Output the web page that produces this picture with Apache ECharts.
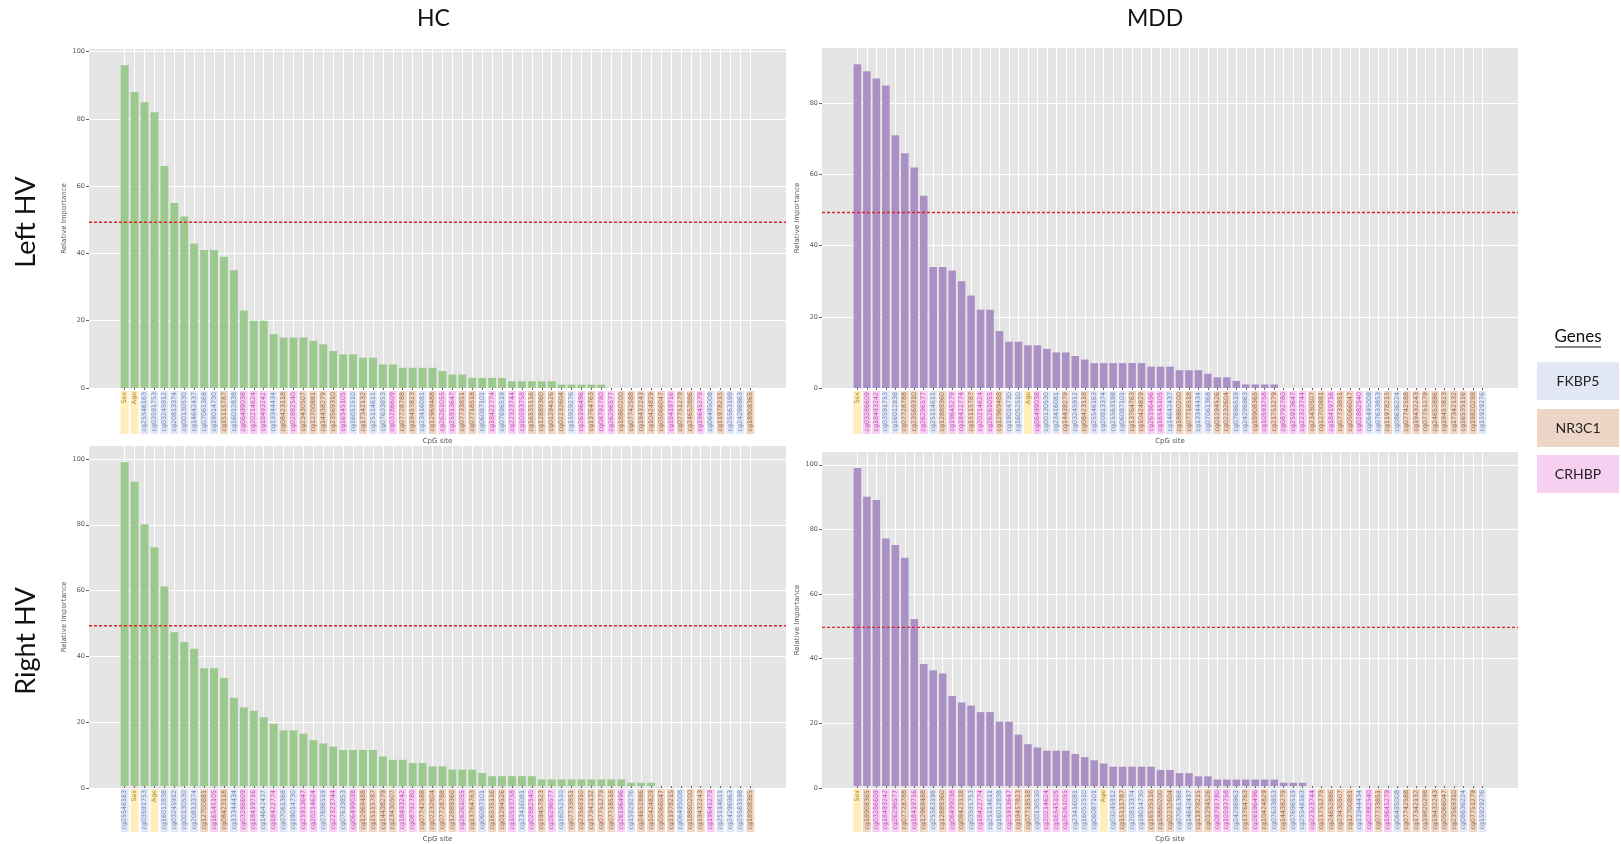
<!DOCTYPE html>
<html>
<head>
<meta charset="utf-8">
<script src="https://cdn.jsdelivr.net/npm/echarts@6/dist/echarts.min.js"></script>
<style>
html, body { margin: 0; padding: 0; background: #fff; }
#chart { width: 1621px; height: 844px; }
</style>
</head>
<body>
<div id="chart"></div>
<script>
// gene membership of each CpG site
const covariates = ['Sex', 'Age']
const fkbp5Sites = ['cg25546163', 'cg03591753', 'cg03245912', 'cg20813374', 'cg00130530', 'cg14642437', 'cg07061368', 'cg19014730', 'cg16012838', 'cg13344434', 'cg16052510', 'cg25114611', 'cg07633853', 'cg23416081', 'cg06087101', 'cg07696519', 'cg15929276', 'cg06495008', 'cg25563198', 'cg24296963', 'cg08636224']
const nr3c1Sites = ['cg15115787', 'cg08423118', 'cg23430507', 'cg12700881', 'cg14438279', 'cg23569310', 'cg17342132', 'cg07728788', 'cg19457823', 'cg12969488', 'cg07733851', 'cg07718518', 'cg16535116', 'cg12889360', 'cg01294526', 'cg02232604', 'cg13764763', 'cg18860200', 'cg07742588', 'cg19432243', 'cg10424829', 'cg05066047', 'cg07751279', 'cg24652886', 'cg11978215', 'cg18908365', 'cg21751279', 'cg19820298']
const crhbpSites = ['cg06499038', 'cg20214624', 'cg18493242', 'cg02882540', 'cg16545105', 'cg03286609', 'cg26261055', 'cg25913647', 'cg18422774', 'cg22323744', 'cg10593758', 'cg26196496', 'cg08792780', 'cg26296577', 'cg18419716', 'cg19645279']

// HC, left HV
const hcLeftSites = ['Sex', 'Age', 'cg25546163', 'cg03591753', 'cg03245912', 'cg20813374', 'cg00130530', 'cg14642437', 'cg07061368', 'cg19014730', 'cg15115787', 'cg16012838', 'cg06499038', 'cg20214624', 'cg18493242', 'cg13344434', 'cg08423118', 'cg02882540', 'cg23430507', 'cg12700881', 'cg14438279', 'cg23569310', 'cg16545105', 'cg16052510', 'cg17342132', 'cg25114611', 'cg07633853', 'cg03286609', 'cg07728788', 'cg19457823', 'cg23416081', 'cg12969488', 'cg26261055', 'cg25913647', 'cg07733851', 'cg07718518', 'cg06087101', 'cg18422774', 'cg07696519', 'cg22323744', 'cg10593758', 'cg16535116', 'cg12889360', 'cg01294526', 'cg02232604', 'cg15929276', 'cg26196496', 'cg13764763', 'cg08792780', 'cg26296577', 'cg18860200', 'cg07742588', 'cg19432243', 'cg10424829', 'cg05066047', 'cg18419716', 'cg07751279', 'cg24652886', 'cg19645279', 'cg06495008', 'cg11978215', 'cg25563198', 'cg24296963', 'cg18908365']
const hcLeftValues = [96, 88, 85, 82, 66, 55, 51, 43, 41, 41, 39, 35, 23, 20, 20, 16, 15, 15, 15, 14, 13, 11, 10, 10, 9, 9, 7, 7, 6, 6, 6, 6, 5, 4, 4, 3, 3, 3, 3, 2, 2, 2, 2, 2, 1, 1, 1, 1, 1, 0, 0, 0, 0, 0, 0, 0, 0, 0, 0, 0, 0, 0, 0, 0]

// MDD, left HV
const mddLeftSites = ['Sex', 'cg03286609', 'cg18493242', 'cg03591753', 'cg16012838', 'cg07728788', 'cg23569310', 'cg26296577', 'cg25114611', 'cg12889360', 'cg19645279', 'cg18422774', 'cg15115787', 'cg20214624', 'cg26261055', 'cg12969488', 'cg19014730', 'cg16052510', 'Age', 'cg06499038', 'cg00130530', 'cg23416081', 'cg14438279', 'cg03245912', 'cg08423118', 'cg25546163', 'cg20813374', 'cg25563198', 'cg06087101', 'cg13764763', 'cg10424829', 'cg26196496', 'cg16545105', 'cg14642437', 'cg18860200', 'cg07718518', 'cg13344434', 'cg07061368', 'cg01294526', 'cg02232604', 'cg07696519', 'cg24296963', 'cg18908365', 'cg10593758', 'cg21751279', 'cg08792780', 'cg25913647', 'cg22323744', 'cg23430507', 'cg12700881', 'cg18419716', 'cg07733851', 'cg05066047', 'cg02882540', 'cg06495008', 'cg07633853', 'cg11978215', 'cg08636224', 'cg07742588', 'cg19432243', 'cg07751279', 'cg24652886', 'cg19457823', 'cg17342132', 'cg16535116', 'cg19820298', 'cg15929276']
const mddLeftValues = [91, 89, 87, 85, 71, 66, 62, 54, 34, 34, 33, 30, 26, 22, 22, 16, 13, 13, 12, 12, 11, 10, 10, 9, 8, 7, 7, 7, 7, 7, 7, 6, 6, 6, 5, 5, 5, 4, 3, 3, 2, 1, 1, 1, 1, 0, 0, 0, 0, 0, 0, 0, 0, 0, 0, 0, 0, 0, 0, 0, 0, 0, 0, 0, 0, 0, 0]

// HC, right HV
const hcRightSites = ['cg25546163', 'Sex', 'cg03591753', 'Age', 'cg16012838', 'cg03245912', 'cg00130530', 'cg20813374', 'cg12700881', 'cg16545105', 'cg08423118', 'cg13344434', 'cg03286609', 'cg18419716', 'cg14642437', 'cg18422774', 'cg07061368', 'cg19014730', 'cg25913647', 'cg20214624', 'cg07696519', 'cg22323744', 'cg07633853', 'cg06499038', 'cg12969488', 'cg15115787', 'cg14438279', 'cg23430507', 'cg18493242', 'cg08792780', 'cg07742588', 'cg02232604', 'cg07728788', 'cg12889360', 'cg26261055', 'cg13764763', 'cg06087101', 'cg16535116', 'cg01294526', 'cg10593758', 'cg23416081', 'cg02882540', 'cg19457823', 'cg26296577', 'cg16052510', 'cg07733851', 'cg23569310', 'cg17342132', 'cg07751279', 'cg07718518', 'cg26196496', 'cg15929276', 'cg24652886', 'cg10424829', 'cg05066047', 'cg11978215', 'cg06495008', 'cg18860200', 'cg19432243', 'cg19645279', 'cg25114611', 'cg24296963', 'cg25563198', 'cg18908365']
const hcRightValues = [99, 93, 80, 73, 61, 47, 44, 42, 36, 36, 33, 27, 24, 23, 21, 19, 17, 17, 16, 14, 13, 12, 11, 11, 11, 11, 9, 8, 8, 7, 7, 6, 6, 5, 5, 5, 4, 3, 3, 3, 3, 3, 2, 2, 2, 2, 2, 2, 2, 2, 2, 1, 1, 1, 0, 0, 0, 0, 0, 0, 0, 0, 0, 0]

// MDD, right HV
const mddRightSites = ['Sex', 'cg18908365', 'cg03286609', 'cg18493242', 'cg26296577', 'cg07728788', 'cg18419716', 'cg12969488', 'cg25563198', 'cg12889360', 'cg06499038', 'cg08423118', 'cg03591753', 'cg18422774', 'cg25114611', 'cg16012838', 'cg25913647', 'cg19457823', 'cg07718518', 'cg00130530', 'cg20214624', 'cg16545105', 'cg26261055', 'cg23416081', 'cg16052510', 'cg06087101', 'Age', 'cg03245912', 'cg15115787', 'cg20813374', 'cg19014730', 'cg16535116', 'cg18860200', 'cg02232604', 'cg07061368', 'cg14642437', 'cg11978215', 'cg01294526', 'cg08792780', 'cg10593758', 'cg24296963', 'cg13764763', 'cg26196496', 'cg10424829', 'cg07633853', 'cg14438279', 'cg07696519', 'cg25546163', 'cg22323744', 'cg21751279', 'cg24652886', 'cg23430507', 'cg12700881', 'cg13344434', 'cg02882540', 'cg07733851', 'cg19645279', 'cg06495008', 'cg07742588', 'cg17342132', 'cg19820298', 'cg19432243', 'cg05066047', 'cg23569310', 'cg08636224', 'cg07751279', 'cg15929276']
const mddRightValues = [99, 90, 89, 77, 75, 71, 52, 38, 36, 35, 28, 26, 25, 23, 23, 20, 20, 16, 13, 12, 11, 11, 11, 10, 9, 8, 7, 6, 6, 6, 6, 6, 5, 5, 4, 4, 3, 3, 2, 2, 2, 2, 2, 2, 2, 1, 1, 1, 0, 0, 0, 0, 0, 0, 0, 0, 0, 0, 0, 0, 0, 0, 0, 0, 0, 0, 0]

const cutoffs = [49.3, 49.3, 49.3, 49.7]
const yTicks = [0, 20, 40, 60, 80, 100]

const GREEN = '#9bc98e'
const PURPLE = '#ab90c6'
const geneStyle = {
	F: { bg: '#e1e7f4', fg: '#7787b4' },
	N: { bg: '#eed6c6', fg: '#9b6b4c' },
	C: { bg: '#f7d0f1', fg: '#c24fb8' },
	X: { bg: '#fdeebc', fg: '#b08636' },
}
const geneKey = (site) => {
	if (covariates.includes(site)) return 'X'
	if (fkbp5Sites.includes(site)) return 'F'
	if (nr3c1Sites.includes(site)) return 'N'
	if (crhbpSites.includes(site)) return 'C'
	return 'F'
}

const panels = [
	{ sites: hcLeftSites, values: hcLeftValues, color: GREEN, cut: cutoffs[0], box: [89, 49, 786, 388] },
	{ sites: mddLeftSites, values: mddLeftValues, color: PURPLE, cut: cutoffs[1], box: [822, 48, 1518, 388] },
	{ sites: hcRightSites, values: hcRightValues, color: GREEN, cut: cutoffs[2], box: [89, 446, 786, 788] },
	{ sites: mddRightSites, values: mddRightValues, color: PURPLE, cut: cutoffs[3], box: [822, 452, 1518, 788] },
]

const rich = {}
Object.keys(geneStyle).forEach((k) => {
	rich[k] = {
		backgroundColor: geneStyle[k].bg,
		color: geneStyle[k].fg,
		width: 41,
		height: 8,
		lineHeight: 8,
		align: 'right',
		padding: [0, 1, 0, 1],
		fontSize: 6.3,
		fontFamily: 'DejaVu Sans',
	}
})

const grid = []
const xAxis = []
const yAxis = []
const series = []

panels.forEach((p, i) => {
	const [x0, y0, x1, y1] = p.box
	const n = p.sites.length
	// matplotlib style margins: bars of width 0.8 plus 5% padding on each side
	const step = (x1 - x0) / ((n - 0.2) * 1.1)
	const inset = (0.4 + 0.05 * (n - 0.2)) * step
	const ymax = Math.max(...p.values) * 1.05
	const ticks = yTicks.filter((t) => t <= ymax)

	grid.push({ left: x0, top: y0, width: x1 - x0, height: y1 - y0, show: true, backgroundColor: '#e5e5e5', borderWidth: 0 })
	grid.push({ left: x0 + inset, top: y0, width: x1 - x0 - 2 * inset, height: y1 - y0 })

	xAxis.push({ type: 'value', gridIndex: 2 * i, min: 0, max: 1, show: false })
	xAxis.push({
		type: 'category',
		gridIndex: 2 * i + 1,
		data: p.sites,
		boundaryGap: false,
		axisLine: { show: false },
		axisTick: { show: true, length: 2, lineStyle: { color: '#666' } },
		splitLine: { show: true, lineStyle: { color: '#ffffff', width: 1 } },
		axisLabel: {
			interval: 0,
			rotate: 90,
			margin: 3,
			formatter: (v) => `{${geneKey(v)}|${v}}`,
			rich: rich,
		},
		name: 'CpG site',
		nameLocation: 'middle',
		nameGap: 50,
		nameTextStyle: { fontSize: 7, color: '#555', fontFamily: 'DejaVu Sans' },
	})

	yAxis.push({
		type: 'value',
		gridIndex: 2 * i,
		min: 0,
		max: ymax,
		interval: 20,
		axisLine: { show: false },
		axisTick: { show: true, length: 3, customValues: ticks, lineStyle: { color: '#666' } },
		splitLine: { show: true, lineStyle: { color: '#ffffff', width: 1 } },
		axisLabel: {
			fontSize: 6.5,
			color: '#555',
			margin: 4,
			fontFamily: 'DejaVu Sans',
			customValues: ticks,
		},
		name: 'Relative Importance',
		nameLocation: 'middle',
		nameGap: 21,
		nameRotate: 90,
		nameTextStyle: { fontSize: 7, color: '#555', fontFamily: 'DejaVu Sans' },
	})
	yAxis.push({ type: 'value', gridIndex: 2 * i + 1, min: 0, max: ymax, show: false, splitLine: { show: false } })

	series.push({
		type: 'bar',
		xAxisIndex: 2 * i + 1,
		yAxisIndex: 2 * i + 1,
		data: p.values,
		barWidth: '80%',
		clip: false,
		silent: true,
		itemStyle: { color: p.color },
	})
	series.push({
		type: 'line',
		xAxisIndex: 2 * i,
		yAxisIndex: 2 * i,
		data: [[0, p.cut], [1, p.cut]],
		symbol: 'none',
		silent: true,
		lineStyle: { color: '#d9262b', width: 1.4, type: [3, 2] },
		z: 5,
	})
})

const titleFont = 'Lato, "Noto Sans", sans-serif'
const graphic = [
	{ type: 'text', left: 417, top: 7, style: { text: 'HC', font: `23px ${titleFont}`, fill: '#111' } },
	{ type: 'text', left: 1127, top: 7, style: { text: 'MDD', font: `23px ${titleFont}`, fill: '#111' } },
	{ type: 'text', x: 26, y: 222, rotation: Math.PI / 2, style: { text: 'Left HV', font: `27px ${titleFont}`, fill: '#111', align: 'center', verticalAlign: 'middle' } },
	{ type: 'text', x: 26, y: 641, rotation: Math.PI / 2, style: { text: 'Right HV', font: `27px ${titleFont}`, fill: '#111', align: 'center', verticalAlign: 'middle' } },
	{ type: 'text', x: 1578, y: 337, style: { text: 'Genes', font: `17px ${titleFont}`, fill: '#111', align: 'center', verticalAlign: 'middle' } },
	{ type: 'line', shape: { x1: 1555, y1: 347, x2: 1601, y2: 347 }, style: { stroke: '#111', lineWidth: 1.2 } },
]
const legendItems = [
	{ label: 'FKBP5', key: 'F', y: 362 },
	{ label: 'NR3C1', key: 'N', y: 409 },
	{ label: 'CRHBP', key: 'C', y: 455 },
]
legendItems.forEach((g) => {
	graphic.push({ type: 'rect', shape: { x: 1537, y: g.y, width: 82, height: 38 }, style: { fill: geneStyle[g.key].bg } })
	graphic.push({ type: 'text', x: 1578, y: g.y + 19, style: { text: g.label, font: `14px ${titleFont}`, fill: '#222', align: 'center', verticalAlign: 'middle' } })
})

const myChart = echarts.init(document.getElementById('chart'), null, { renderer: 'canvas' })
myChart.setOption({
	animation: false,
	backgroundColor: '#ffffff',
	grid: grid,
	xAxis: xAxis,
	yAxis: yAxis,
	series: series,
	graphic: graphic,
})

window.addEventListener('resize', () => {
	myChart.resize()
})
</script>
</body>
</html>
